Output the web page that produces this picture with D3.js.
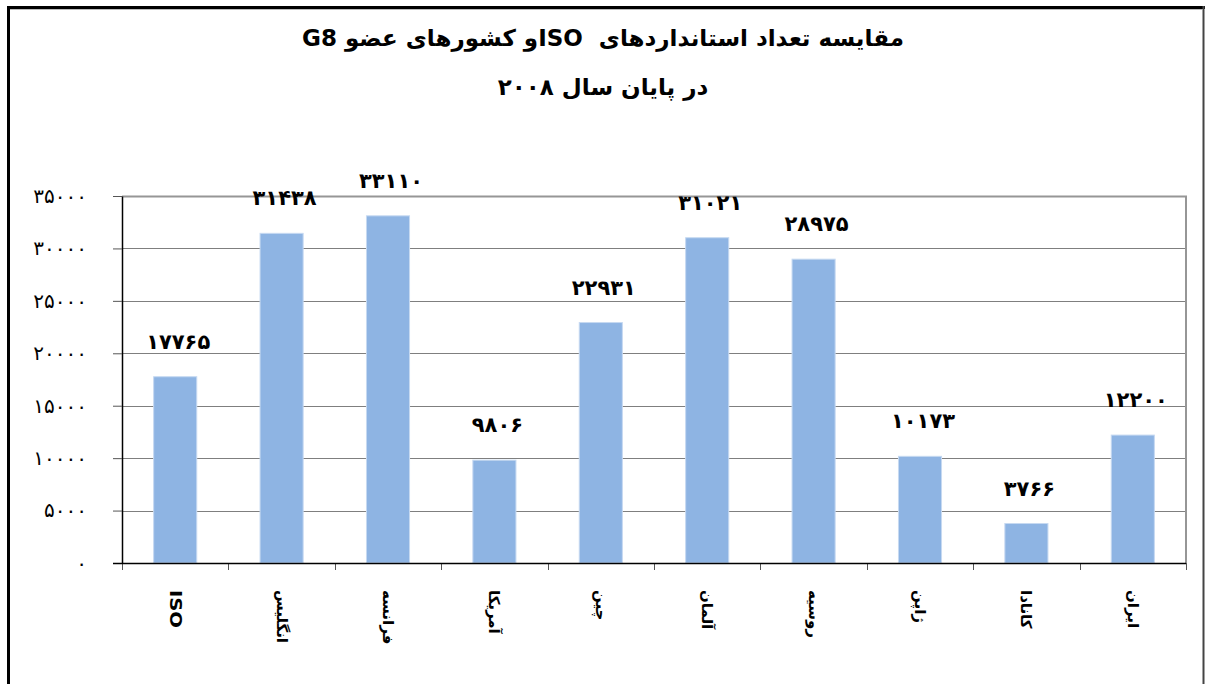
<!DOCTYPE html>
<html lang="fa">
<head>
<meta charset="UTF-8">
<title>مقایسه تعداد استانداردهای ISO و کشورهای عضو G8</title>
<script src="https://cdnjs.cloudflare.com/ajax/libs/d3/7.8.5/d3.min.js"></script>
<style>
    body { margin: 0; background: #fff; }
    svg { display: block; font-family: "DejaVu Sans", sans-serif; }
    .grid line { stroke: #7f7f7f; stroke-width: 1; }
    .bar { fill: #8eb4e3; stroke: #c6d9f1; stroke-width: 1; }
    .ylab { font-size: 20px; fill: #000; }
    .val { font-size: 21px; font-weight: bold; fill: #000; }
    .cat { font-size: 15px; font-weight: bold; fill: #000; }
    .title { font-size: 23px; font-weight: bold; fill: #000; white-space: pre; }
</style>
</head>
<body>
<div id="chart"></div>
<script>
    const categories = ['ISO', 'انگلیس', 'فرانسه', 'آمریکا', 'چین', 'آلمان', 'روسیه', 'ژاپن', 'کانادا', 'ایران'];
    const values = [17765, 31438, 33110, 9806, 22931, 31021, 28975, 10173, 3766, 12200];
    const yTicks = [0, 5000, 10000, 15000, 20000, 25000, 30000, 35000];
    const titleLines = ['مقایسه تعداد استانداردهای\u00a0\u00a0ISOو کشورهای عضو G8', 'در پایان سال ۲۰۰۸'];

    const W = 1205, H = 684;
    const plot = { left: 122, right: 1186, top: 196, bottom: 563 };

    // latin digits -> persian digits
    const faDigits = '۰۱۲۳۴۵۶۷۸۹';
    function fa(n) {
        return String(n).replace(/\d/g, d => faDigits[+d]);
    }

    const svg = d3.select('#chart').append('svg')
        .attr('width', W)
        .attr('height', H);

    // outer frame
    svg.append('line').attr('x1', 7).attr('x2', 1205).attr('y1', 7.5).attr('y2', 7.5)
        .attr('stroke', '#000').attr('stroke-width', 3);
    svg.append('line').attr('x1', 10).attr('x2', 1202).attr('y1', 9.5).attr('y2', 9.5)
        .attr('stroke', '#bbb').attr('stroke-width', 1);
    svg.append('line').attr('x1', 8.5).attr('x2', 8.5).attr('y1', 6).attr('y2', H)
        .attr('stroke', '#000').attr('stroke-width', 3);
    svg.append('line').attr('x1', 1203.5).attr('x2', 1203.5).attr('y1', 6).attr('y2', H)
        .attr('stroke', '#444').attr('stroke-width', 2);

    svg.selectAll('.title')
        .data(titleLines)
        .enter()
        .append('text')
        .attr('class', 'title')
        .attr('x', 603)
        .attr('y', (d, i) => 46 + i * 49)
        .attr('text-anchor', 'middle')
        .attr('direction', 'rtl')
        .text(d => d);

    const x = d3.scaleBand()
        .domain(categories)
        .range([plot.left, plot.right])
        .paddingInner(0.595)
        .paddingOuter(0.2975);

    const y = d3.scaleLinear()
        .domain([0, 35000])
        .range([plot.bottom, plot.top]);

    // gridlines
    svg.append('g')
        .attr('class', 'grid')
        .selectAll('line')
        .data(yTicks.slice(1, -1))
        .enter()
        .append('line')
        .attr('x1', plot.left)
        .attr('x2', plot.right)
        .attr('y1', d => Math.round(y(d)) + 0.5)
        .attr('y2', d => Math.round(y(d)) + 0.5);

    // plot border top / right
    svg.append('path')
        .attr('d', `M${plot.left},${plot.top + 0.5}H${plot.right}V${plot.bottom}`)
        .attr('fill', 'none')
        .attr('stroke', '#969696')
        .attr('stroke-width', 2);

    // y axis
    const yAxis = svg.append('g')
        .attr('transform', `translate(${plot.left},0)`)
        .call(d3.axisLeft(y).tickValues(yTicks).tickSize(9).tickSizeOuter(0).tickFormat(fa));
    yAxis.attr('font-family', null).attr('font-size', null);
    yAxis.select('.domain').attr('stroke', '#000').attr('stroke-width', 1.5);
    yAxis.selectAll('.tick line').attr('stroke', '#555');
    yAxis.selectAll('.tick text')
        .attr('class', 'ylab')
        .attr('x', -35);

    // bars
    svg.selectAll('.bar')
        .data(values)
        .enter()
        .append('rect')
        .attr('class', 'bar')
        .attr('x', (d, i) => x(categories[i]))
        .attr('y', d => y(d))
        .attr('width', x.bandwidth())
        .attr('height', d => plot.bottom - y(d));

    // value labels
    svg.selectAll('.val')
        .data(values)
        .enter()
        .append('text')
        .attr('class', 'val')
        .attr('x', (d, i) => x(categories[i]) + x.bandwidth() / 2 + 3)
        .attr('y', d => y(d) - 28)
        .attr('text-anchor', 'middle')
        .text(d => fa(d));

    // x axis line + category ticks
    const step = x.step();
    const xTicks = d3.range(categories.length + 1).map(i => plot.left + i * step);
    svg.selectAll('.xtick')
        .data(xTicks)
        .enter()
        .append('line')
        .attr('class', 'xtick')
        .attr('x1', d => Math.round(d) + 0.5)
        .attr('x2', d => Math.round(d) + 0.5)
        .attr('y1', plot.bottom)
        .attr('y2', plot.bottom + 7)
        .attr('stroke', '#555');
    svg.append('line')
        .attr('x1', plot.left - 9)
        .attr('x2', plot.right)
        .attr('y1', plot.bottom + 0.5)
        .attr('y2', plot.bottom + 0.5)
        .attr('stroke', '#000')
        .attr('stroke-width', 1.5);

    // rotated category labels
    svg.selectAll('.cat')
        .data(categories)
        .enter()
        .append('text')
        .attr('class', 'cat')
        .attr('transform', d => `translate(${x(d) + x.bandwidth() / 2},590) rotate(90)`)
        .attr('dominant-baseline', 'central')
        .attr('text-anchor', 'start')
        .style('font-size', d => d === 'ISO' ? '16px' : null)
        .attr('textLength', d => d === 'ISO' ? 38 : null)
        .attr('lengthAdjust', 'spacingAndGlyphs')
        .text(d => d);
</script>
</body>
</html>
